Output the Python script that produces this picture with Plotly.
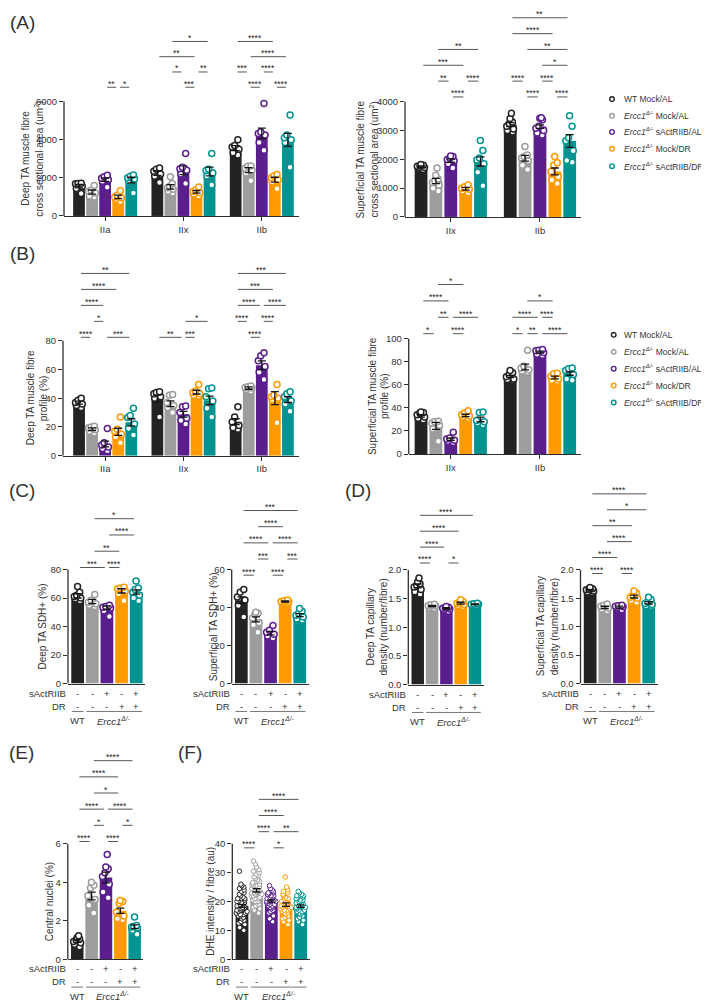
import plotly.graph_objects as go

W, H = 709, 1000
FONT = "Liberation Sans, Arial, Helvetica, sans-serif"
INK = "#333333"
AXIS_COLOR = "#2e2e2e"

# ---------------- categories / labels ----------------
COLORS = ["#232323", "#9d9d9d", "#5a1f8c", "#ff9a00", "#00938f"]
ERCC = "<i>Ercc1</i><sup><i>Δ/-</i></sup>"
LEGEND_TEXT = ["WT Mock/AL", ERCC + " Mock/AL", ERCC + " sActRIIB/AL",
               ERCC + " Mock/DR", ERCC + " sActRIIB/DR"]
FIBRE_3 = ["IIa", "IIx", "IIb"]
FIBRE_2 = ["IIx", "IIb"]
SACTRIIB_ROW = ["-", "-", "+", "-", "+"]
DR_ROW = ["-", "-", "-", "+", "+"]
GENOTYPES = ["WT", ERCC]
PANEL_LABELS = ["(A)", "(B)", "(C)", "(D)", "(E)", "(F)"]

# ---------------- (A) deep TA CSA ----------------
A_DEEP_MEAN = [[1560, 1250, 1900, 1000, 1880],
               [2250, 1525, 2400, 1265, 2330],
               [3560, 2400, 4330, 1900, 3990]]
A_DEEP_SEM = [[90, 110, 90, 90, 150],
              [120, 120, 230, 70, 230],
              [130, 130, 280, 130, 340]]
A_DEEP_PTS = [
    [[1720, 1700, 1690, 1560, 1440, 1180], [1600, 1350, 1300, 1200, 1050, 1000],
     [2130, 2050, 1980, 1900, 1820, 1500], [1320, 1080, 1000, 950, 880, 760],
     [2150, 2080, 2000, 1950, 1850, 1200]],
    [[2520, 2450, 2350, 2200, 2080, 1750], [2050, 1700, 1550, 1480, 1400, 1300, 1200],
     [3270, 2560, 2480, 2400, 2200, 1700], [1520, 1360, 1280, 1220, 1150, 1050],
     [3280, 2450, 2380, 2250, 2100, 1620]],
    [[4000, 3700, 3620, 3500, 3320, 3200], [2620, 2600, 2500, 2400, 2250, 1850],
     [5900, 4400, 4330, 4250, 3850, 3450], [2170, 2100, 2000, 1900, 1800, 1420],
     [5300, 4250, 4100, 4000, 3850, 2550]]]
A_DEEP_SIG = [(0, 2, 3, "**", 0), (0, 3, 4, "*", 0), (1, 2, 3, "***", 0), (2, 1, 2, "****", 0),
              (2, 3, 4, "****", 0), (1, 1, 2, "*", 1), (1, 3, 4, "**", 1), (2, 0, 1, "***", 1),
              (2, 2, 3, "****", 1), (1, 0, 3, "**", 2), (2, 1, 4, "****", 2),
              (1, 1, 4, "*", 3), (2, 0, 3, "****", 3)]

# ---------------- (A) superficial TA CSA ----------------
A_SUP_MEAN = [[1750, 1250, 1960, 980, 1930],
              [3210, 2040, 3140, 1580, 2640]]
A_SUP_SEM = [[25, 90, 60, 45, 160],
             [70, 100, 60, 120, 220]]
A_SUP_PTS = [
    [[1820, 1800, 1780, 1760, 1720, 1700, 1650], [1700, 1450, 1320, 1250, 1200, 1100, 1000, 900],
     [2120, 2100, 2050, 2000, 1950, 1850, 1700], [1110, 1050, 1000, 960, 900, 840],
     [2660, 2310, 2050, 1980, 1850, 1550, 1080]],
    [[3600, 3420, 3300, 3250, 3150, 3060, 3000, 2950], [2450, 2150, 2100, 2050, 1950, 1800, 1650],
     [3450, 3430, 3380, 3150, 3080, 3000, 2920, 2850], [2100, 1880, 1800, 1580, 1400, 1280, 1160],
     [3520, 3150, 2750, 2650, 2300, 1960, 1900]]]
A_SUP_SIG = [(0, 2, 3, "****", 0), (1, 1, 2, "****", 0), (1, 3, 4, "****", 0),
             (0, 1, 2, "**", 1), (0, 3, 4, "****", 1), (1, 0, 1, "****", 1), (1, 2, 3, "****", 1),
             (0, 0, 3, "***", 2), (1, 2, 4, "*", 2), (0, 1, 4, "**", 3), (1, 1, 4, "**", 3),
             (1, 0, 3, "****", 4), (1, 0, 4, "**", 5)]

# ---------------- (B) deep TA fibre profile ----------------
B_DEEP_MEAN = [[36.9, 18.4, 8.1, 16.6, 23.2],
               [39.6, 36.2, 28.8, 44.2, 38.5],
               [23.7, 47.0, 62.9, 40.0, 39.0]]
B_DEEP_SEM = [[1.0, 1.0, 2.0, 2.5, 2.5],
              [2.5, 2.0, 2.0, 1.3, 3.0],
              [2.0, 0.8, 3.0, 4.5, 2.0]]
B_DEEP_PTS = [
    [[40, 38.5, 37, 36, 35, 33.5], [20.5, 20, 19.5, 18, 17, 16], [19, 9, 7.5, 6, 5, 3.5],
     [27, 18.5, 17, 15, 13, 9], [33, 28, 26.5, 22, 19, 14.5]],
    [[44.5, 44, 43, 41, 40, 27], [42.5, 42, 37, 35, 33.5, 30], [34.5, 34, 30, 26, 24.5, 22],
     [49.5, 45, 44, 43, 42, 41.5], [47, 46.5, 41, 38, 33, 27]],
    [[34, 27, 23.5, 21, 19.5, 18.5], [48.5, 48, 47.5, 47, 46, 45], [71.5, 69.5, 66, 62, 58, 53],
     [49.5, 42, 41, 40, 39, 23], [44.5, 43, 41, 38, 36, 31]]]
B_DEEP_SIG = [(0, 0, 1, "****", 0), (0, 2, 4, "***", 0), (1, 0, 2, "**", 0), (1, 2, 3, "***", 0),
              (2, 1, 2, "****", 0), (0, 1, 2, "*", 1), (1, 2, 4, "*", 1), (2, 0, 1, "****", 1),
              (2, 2, 3, "****", 1), (0, 0, 2, "****", 2), (2, 0, 2, "****", 2), (2, 2, 4, "****", 2),
              (0, 0, 3, "****", 3), (2, 0, 3, "***", 3), (0, 0, 4, "**", 4), (2, 0, 4, "***", 4)]

# ---------------- (B) superficial TA fibre profile ----------------
B_SUP_MEAN = [[33.0, 24.4, 12.9, 33.5, 30.0],
              [67.2, 75.5, 88.3, 66.3, 69.8]]
B_SUP_SEM = [[1.0, 3.0, 1.0, 1.0, 2.0],
             [1.0, 2.5, 0.8, 1.2, 1.5]]
B_SUP_PTS = [
    [[36.5, 36, 35.5, 34, 32, 31, 29.5], [28.5, 28, 27, 25, 22, 11], [19, 14, 13, 12, 11, 10],
     [37.5, 35.5, 34, 33, 32, 31], [36.5, 36, 29, 28, 27, 25.5]],
    [[72.5, 70.5, 69, 67, 65, 64.5, 64], [90, 76, 74.5, 73, 72, 71], [90.5, 90, 89.5, 88, 86.5, 85.5],
     [70, 69.5, 67.5, 65, 64, 63], [74.5, 74, 72.5, 69, 65, 64]]]
B_SUP_SIG = [(0, 0, 1, "*", 0), (0, 2, 3, "****", 0), (1, 0, 1, "*", 0), (1, 1, 2, "**", 0),
             (1, 2, 4, "****", 0), (0, 1, 2, "**", 1), (0, 2, 4, "****", 1), (1, 0, 2, "****", 1),
             (1, 2, 3, "****", 1), (0, 0, 2, "****", 2), (1, 1, 3, "*", 2), (0, 1, 3, "*", 3)]

# ---------------- (C) SDH+ ----------------
C_DEEP_MEAN = [61.5, 57.5, 53.2, 65.0, 64.2]
C_DEEP_SEM = [1.5, 1.5, 1.2, 1.5, 1.5]
C_DEEP_PTS = [[68, 64, 62, 61, 60, 59.5, 58], [62.5, 58.5, 57, 56, 55, 54],
              [55, 54, 53.5, 53, 51, 47], [67.5, 67, 66.5, 65, 63, 58],
              [72, 67, 66, 64, 62, 60, 58]]
C_DEEP_SIG = [(0, 2, "***", 0), (2, 3, "****", 0), (1, 3, "**", 1), (2, 4, "****", 2), (1, 4, "*", 3)]

C_SUP_MEAN = [43.8, 33.8, 26.5, 43.2, 36.0]
C_SUP_SEM = [1.8, 1.3, 0.9, 0.3, 0.8]
C_SUP_PTS = [[49.5, 48, 45.5, 44, 41, 35], [37.5, 37, 36.5, 34.5, 32, 31, 27],
             [30.5, 28, 27, 26, 25, 24], [44, 43.5, 43.2, 43, 42.6, 42.3],
             [39.5, 38, 37, 36, 35, 34, 33.5]]
C_SUP_SIG = [(0, 1, "****", 0), (2, 3, "****", 0), (1, 2, "***", 1), (3, 4, "***", 1),
             (0, 2, "****", 2), (2, 4, "****", 2), (1, 3, "****", 3), (0, 4, "***", 4)]

# ---------------- (D) capillary density ----------------
D_DEEP_MEAN = [1.72, 1.37, 1.33, 1.42, 1.40]
D_DEEP_SEM = [0.035, 0.012, 0.012, 0.016, 0.007]
D_DEEP_PTS = [[1.86, 1.79, 1.76, 1.73, 1.70, 1.66, 1.62, 1.58], [1.40, 1.39, 1.38, 1.37, 1.35, 1.33],
              [1.36, 1.35, 1.34, 1.33, 1.32, 1.30, 1.28], [1.48, 1.45, 1.43, 1.42, 1.40, 1.38, 1.36],
              [1.42, 1.41, 1.40, 1.40, 1.39, 1.38]]
D_DEEP_SIG = [(0, 1, "****", 0), (2, 3, "*", 0), (0, 2, "****", 1), (0, 3, "****", 2), (0, 4, "****", 3)]

D_SUP_MEAN = [1.644, 1.34, 1.345, 1.53, 1.42]
D_SUP_SEM = [0.012, 0.02, 0.018, 0.025, 0.02]
D_SUP_PTS = [[1.69, 1.67, 1.66, 1.65, 1.63, 1.61, 1.60], [1.40, 1.38, 1.36, 1.33, 1.31, 1.28],
             [1.38, 1.37, 1.36, 1.35, 1.33, 1.30], [1.63, 1.59, 1.55, 1.52, 1.50, 1.46, 1.43],
             [1.52, 1.48, 1.44, 1.41, 1.39, 1.37, 1.36]]
D_SUP_SIG = [(0, 1, "****", 0), (2, 3, "****", 0), (0, 2, "****", 1), (1, 3, "****", 2),
             (0, 3, "**", 3), (1, 4, "*", 4), (0, 4, "****", 5)]

# ---------------- (E) central nuclei ----------------
E_MEAN = [0.95, 3.29, 4.25, 2.52, 1.69]
E_SEM = [0.07, 0.2, 0.28, 0.14, 0.1]
E_PTS = [[1.22, 1.12, 1.05, 1.0, 0.92, 0.85, 0.78, 0.65], [4.0, 3.85, 3.7, 3.3, 3.1, 2.8, 2.4],
         [5.45, 4.8, 4.7, 4.5, 4.3, 3.9, 3.5, 3.2], [3.05, 3.0, 2.9, 2.45, 2.25, 2.1, 2.05],
         [2.2, 1.75, 1.7, 1.68, 1.62, 1.5, 1.3]]
E_SIG = [(0, 1, "****", 0), (2, 3, "****", 0), (1, 2, "*", 1), (3, 4, "*", 1), (0, 2, "****", 2),
         (2, 4, "****", 2), (1, 3, "*", 3), (0, 3, "****", 4), (1, 4, "****", 5)]

# ---------------- (F) DHE intensity ----------------
F_MEAN = [18.5, 23.9, 20.2, 18.9, 18.4]
F_SEM = [0.5, 0.6, 0.4, 0.6, 0.4]
F_PTS = [
    [30.5, 26, 25.5, 25, 24.5, 24, 23.5, 23, 22.5, 22, 21.5, 21, 21, 20.5, 20, 20, 19.5, 19.5, 19, 19,
     18.5, 18.5, 18, 18, 17.5, 17.5, 17, 17, 16.5, 16.5, 16, 16, 15.5, 15.5, 15, 15, 14.5, 14, 13.5, 13,
     12.5, 12, 11, 10],
    [34, 33, 32, 31, 30.5, 30, 29.5, 29, 28.5, 28, 27.5, 27, 26.5, 26, 26, 25.5, 25.5, 25, 25, 24.5,
     24.5, 24, 24, 23.5, 23.5, 23, 23, 22.5, 22.5, 22, 22, 21.5, 21, 21, 20.5, 20, 20, 19.5, 19, 18.5,
     18, 17.5, 17, 16],
    [25.5, 24.5, 24, 23.5, 23, 23, 22.5, 22.5, 22, 22, 21.5, 21.5, 21, 21, 21, 20.5, 20.5, 20.5, 20, 20,
     20, 19.5, 19.5, 19, 19, 18.5, 18.5, 18, 18, 17.5, 17, 16.5, 16, 15, 14, 13],
    [28.5, 25, 24, 23.5, 23, 22.5, 22, 21.5, 21, 21, 20.5, 20, 20, 19.5, 19.5, 19, 19, 18.5, 18.5, 18,
     18, 17.5, 17.5, 17, 17, 16.5, 16, 16, 15.5, 15, 14.5, 14, 13.5, 13, 12],
    [23.5, 23, 22.5, 22, 22, 21.5, 21, 21, 20.5, 20.5, 20, 20, 19.5, 19.5, 19, 19, 18.5, 18.5, 18, 18,
     18, 17.5, 17.5, 17, 17, 16.5, 16.5, 16, 16, 15.5, 15, 14.5, 14, 13.5, 13, 12]]
F_SIG = [(0, 1, "****", 0), (2, 3, "*", 0), (1, 2, "****", 1), (2, 4, "**", 1),
         (1, 3, "****", 2), (1, 4, "****", 3)]

# ======================================================================
fig = go.Figure()
layout = {}
annotations = []
shapes = []


def tick_font(size=9.5):
    return dict(family=FONT, size=size, color=INK)


def panel(k, geo, yticks, means, sems, pts, sig, sig_base, sig_step, cats=None,
          bar_w=0.87, psize=6, pline=1.5, jitter=0.8, titles=(), tickformat=None, table=False):
    left, right, xr, y0, yt, tmax, top = geo
    s = "" if k == 1 else str(k)
    xid, yid = "x" + s, "y" + s
    ymax = tmax * (y0 - top) / (y0 - yt)
    layout["xaxis" + s] = dict(
        domain=[left / W, right / W], range=xr, anchor=yid, showline=True,
        linecolor=AXIS_COLOR, linewidth=1.3, showgrid=False, zeroline=False,
        ticks="outside" if cats else "", ticklen=4, tickwidth=1.3, tickcolor=AXIS_COLOR,
        tickvals=[g * 6 + 2 for g in range(len(cats))] if cats else [],
        ticktext=cats if cats else [], showticklabels=bool(cats),
        tickfont=tick_font(), fixedrange=True)
    layout["yaxis" + s] = dict(
        domain=[1 - y0 / H, 1 - top / H], range=[0, ymax], anchor=xid, showline=False,
        showgrid=False, zeroline=False, ticks="outside", ticklen=4, tickwidth=1.3,
        tickcolor=AXIS_COLOR, tickvals=yticks, tickfont=tick_font(), fixedrange=True,
        tickformat=tickformat)
    # y axis spine only up to the top tick
    shapes.append(dict(type="line", xref=xid + " domain", x0=0, x1=0, yref=yid, y0=0, y1=tmax,
                       line=dict(color=AXIS_COLOR, width=1.3), layer="above"))

    ngroups = len(means)
    pos, mu, se, col = [], [], [], []
    for g in range(ngroups):
        for i in range(5):
            pos.append(g * 6 + i)
            mu.append(means[g][i])
            se.append(sems[g][i])
            col.append(COLORS[i])
    fig.add_trace(go.Bar(x=pos, y=mu, width=bar_w, marker=dict(color=col, line=dict(width=0)),
                         xaxis=xid, yaxis=yid, showlegend=False, hoverinfo="skip"))
    for g in range(ngroups):
        for i in range(5):
            vals = pts[g][i]
            fig.add_trace(go.Box(
                x=[g * 6 + i] * len(vals), y=vals, boxpoints="all", jitter=jitter, pointpos=0,
                width=0.8, fillcolor="rgba(0,0,0,0)", line=dict(width=0, color="rgba(0,0,0,0)"),
                marker=dict(color="white", size=psize, line=dict(color=COLORS[i], width=pline)),
                xaxis=xid, yaxis=yid, showlegend=False, hoverinfo="y"))
    fig.add_trace(go.Scatter(
        x=pos, y=mu, mode="markers", marker=dict(size=2, color="rgba(0,0,0,0)"),
        error_y=dict(type="data", array=se, visible=True, color="#151515", thickness=1.3, width=4),
        xaxis=xid, yaxis=yid, showlegend=False, hoverinfo="skip"))

    # significance brackets
    for item in sig:
        if len(item) == 4:
            g = 0
            i, j, stars, row = item
        else:
            g, i, j, stars, row = item
        val = sig_base + row * sig_step
        xa, xb = g * 6 + i, g * 6 + j
        shapes.append(dict(type="line", xref=xid, yref=yid, x0=xa + 0.15, x1=xb - 0.15,
                           y0=val, y1=val, line=dict(color="#555555", width=1)))
        annotations.append(dict(xref=xid, yref=yid, x=(xa + xb) / 2, y=val, text=stars,
                                showarrow=False, yanchor="bottom", yshift=-3.5,
                                font=dict(family=FONT, size=8.5, color="#222222")))

    # y titles (one annotation per line)
    for text, xs in titles:
        annotations.append(dict(xref=xid + " domain", x=0, xshift=xs, yref=yid, y=tmax / 2,
                                text=text, textangle=-90, showarrow=False, xanchor="center",
                                yanchor="middle", font=dict(family=FONT, size=10, color=INK)))

    if table:
        for name, row, ys in (("sActRIIB", SACTRIIB_ROW, -9.5), ("DR", DR_ROW, -22.5)):
            annotations.append(dict(xref=xid + " domain", x=0, yref=yid + " domain", y=0,
                                    yshift=ys, text=name, showarrow=False, xanchor="right",
                                    yanchor="middle", font=tick_font()))
            for i, sym in enumerate(row):
                annotations.append(dict(xref=xid, x=i, yref=yid + " domain", y=0, yshift=ys,
                                        text=sym, showarrow=False, xanchor="center",
                                        yanchor="middle", font=tick_font()))
        line_y = 1 - (y0 + 28) / H
        for x0, x1 in ((-0.4, 0.4), (0.6, 4.4)):
            shapes.append(dict(type="line", xref=xid, yref="paper", x0=x0, x1=x1,
                               y0=line_y, y1=line_y, line=dict(color="#777777", width=1)))
        for x, txt in ((0, GENOTYPES[0]), (2.5, GENOTYPES[1])):
            annotations.append(dict(xref=xid, x=x, yref=yid + " domain", y=0, yshift=-37,
                                    text=txt, showarrow=False, xanchor="center",
                                    yanchor="middle", font=tick_font()))


XR5 = [-0.66, 4.6]
panel(1, (56, 291, [-1.15, 16.85], 209, 94, 6000, 24), [0, 2000, 4000, 6000],
      A_DEEP_MEAN, A_DEEP_SEM, A_DEEP_PTS, A_DEEP_SIG, 6750, 800, cats=FIBRE_3, bar_w=0.9,
      titles=(("Deep TA muscle fibre", -38), ("cross sectional area (um<sup>2</sup>)", -25)))
panel(2, (397, 573, [-1.08, 10.76], 210, 94.3, 4000, 2), [0, 1000, 2000, 3000, 4000],
      A_SUP_MEAN, A_SUP_SEM, A_SUP_PTS, A_SUP_SIG, 4170, 550, cats=FIBRE_2, bar_w=0.86,
      titles=(("Superficial TA muscle fibre", -45), ("cross sectional area (um<sup>2</sup>)", -31)))
panel(3, (55, 291, [-1.23, 16.85], 450, 334.3, 80, 258), [0, 20, 40, 60, 80],
      B_DEEP_MEAN, B_DEEP_SEM, B_DEEP_PTS, B_DEEP_SIG, 82.3, 11.1, cats=FIBRE_3, bar_w=0.9,
      titles=(("Deep TA muscle fibre", -33), ("profile (%)", -20)))
panel(4, (400.7, 573, [-0.83, 10.76], 448.3, 332.3, 100, 270), [0, 20, 40, 60, 80, 100],
      B_SUP_MEAN, B_SUP_SEM, B_SUP_PTS, B_SUP_SIG, 104.3, 14.2, cats=FIBRE_2, bar_w=0.86,
      titles=(("Superficial TA muscle fibre", -36), ("profile (%)", -24)))
panel(5, (60, 137, XR5, 679, 564.3, 80, 505), [0, 20, 40, 60, 80],
      [C_DEEP_MEAN], [C_DEEP_SEM], [C_DEEP_PTS], C_DEEP_SIG, 81.4, 11.4,
      titles=(("Deep TA SDH+ (%)", -25),), table=True)
panel(6, (223.7, 300.5, XR5, 679, 564.3, 60, 497), [0, 20, 40, 60],
      [C_SUP_MEAN], [C_SUP_SEM], [C_SUP_PTS], C_SUP_SIG, 57.0, 8.5,
      titles=(("Superficial TA SDH+ (%)", -18),), table=True)
panel(7, (400.3, 475.6, XR5, 680, 564.7, 2.0, 500), [0, 0.5, 1.0, 1.5, 2.0],
      [D_DEEP_MEAN], [D_DEEP_SEM], [D_DEEP_PTS], D_DEEP_SIG, 2.12, 0.277, tickformat=".1f",
      titles=(("Deep TA capillary", -38), ("density (number/fibre)", -25)), table=True)
panel(8, (572.5, 649.5, XR5, 679, 564.7, 2.0, 480), [0, 0.5, 1.0, 1.5, 2.0],
      [D_SUP_MEAN], [D_SUP_SEM], [D_SUP_PTS], D_SUP_SIG, 1.937, 0.28, tickformat=".1f",
      titles=(("Superficial TA capillary", -40), ("density (number/fibre)", -26)), table=True)
panel(9, (59.8, 135.3, XR5, 956, 840, 6, 750), [0, 2, 4, 6],
      [E_MEAN], [E_SEM], [E_PTS], E_SIG, 6.12, 0.84,
      titles=(("Central nuclei (%)", -18),), table=True)
panel(10, (224.3, 301.5, XR5, 956, 840, 40, 788), [0, 10, 20, 30, 40],
      [F_MEAN], [F_SEM], [F_PTS], F_SIG, 38.6, 5.6, psize=4.5, pline=1.0, jitter=1.0,
      titles=(("DHE intensity / fibre (au)", -22),), table=True)

# ---------------- legends (A and B) ----------------
for mx, tx, rows in ((604, 615, [91.5, 108.3, 124.5, 141.5, 159]),
                     (605.7, 615, [328.5, 345.5, 362.5, 379.5, 396.5])):
    for i, ry in enumerate(rows):
        shapes.append(dict(type="circle", xref="paper", yref="paper",
                           x0=(mx - 2.3) / W, x1=(mx + 2.3) / W,
                           y0=1 - (ry + 2.3) / H, y1=1 - (ry - 2.3) / H,
                           line=dict(color=COLORS[i], width=1.4), fillcolor="white"))
        annotations.append(dict(xref="paper", yref="paper", x=tx / W, y=1 - ry / H,
                                text=LEGEND_TEXT[i], showarrow=False, xanchor="left",
                                yanchor="middle", borderpad=0,
                                font=dict(family=FONT, size=8.5, color=INK)))

# ---------------- panel letters ----------------
for lab, (px, py) in zip(PANEL_LABELS, [(1, 15), (1, 247), (0, 485), (336, 485), (0, 748), (169, 748)]):
    annotations.append(dict(xref="paper", yref="paper", x=px / W, y=1 - py / H, text=lab,
                            showarrow=False, xanchor="left", yanchor="middle", borderpad=0,
                            font=dict(family=FONT, size=19, color=INK)))

layout.update(dict(
    width=W, height=H, margin=dict(l=0, r=0, t=0, b=0), autosize=False,
    paper_bgcolor="white", plot_bgcolor="rgba(0,0,0,0)", showlegend=False,
    boxmode="overlay", hovermode=False, font=dict(family=FONT, color=INK),
    annotations=annotations, shapes=shapes))
fig.update_layout(**layout)
fig.write_html("out.html")
